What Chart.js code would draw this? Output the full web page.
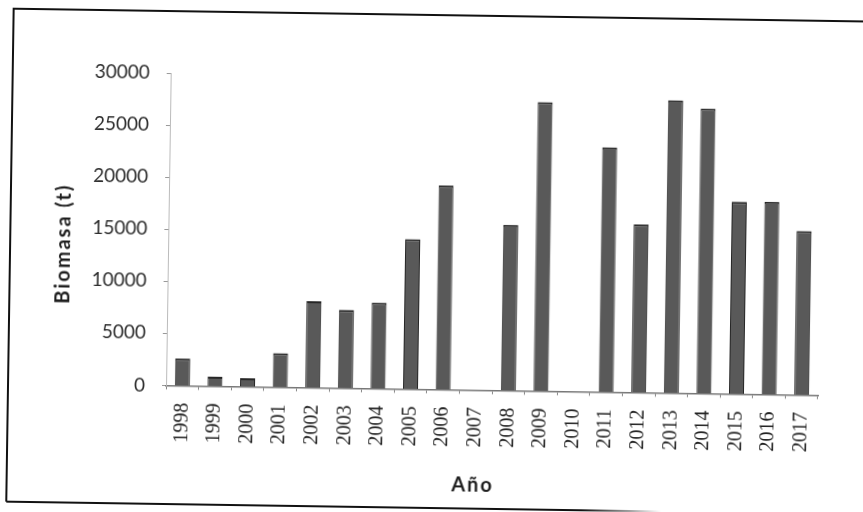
<!DOCTYPE html>
<html>
<head>
<meta charset="utf-8">
<script src="https://cdn.jsdelivr.net/npm/chart.js@4/dist/chart.umd.min.js"></script>
<style>
  html, body { margin: 0; padding: 0; background: #fff; overflow: hidden; width: 863px; height: 512px; }
  #wrap { width: 863px; height: 512px; transform: rotate(0.86deg); transform-origin: 431.5px 256px; }
  canvas { display: block; }
</style>
</head>
<body>
<div id="wrap"><canvas id="c" width="863" height="512"></canvas></div>
<script>
// Annual biomass (tonnes), 1998-2017
const years = ['1998','1999','2000','2001','2002','2003','2004','2005','2006','2007',
               '2008','2009','2010','2011','2012','2013','2014','2015','2016','2017'];
const biomasa = [2600, 900, 800, 3250, 8300, 7500, 8250, 14400, 19600, 0,
                 15900, 27750, 0, 23500, 16150, 28100, 27350, 18450, 18500, 15750];
const yTickLabels = ['0', '5000', '10000', '15000', '20000', '25000', '30000'];
const xTitle = 'Año';
const yTitle = 'Biomasa (t)';

// White page with the outer frame (open on the right, bottom edge fading out)
const framePlugin = {
  id: 'frame',
  beforeDraw(chart) {
    const ctx = chart.ctx;
    ctx.save();
    ctx.fillStyle = '#fff';
    ctx.fillRect(0, 0, chart.width, chart.height);
    ctx.strokeStyle = '#111';
    ctx.lineWidth = 2;
    ctx.beginPath();
    ctx.moveTo(880, 15);
    ctx.lineTo(10, 15);
    ctx.lineTo(10, 508);
    ctx.stroke();
    const g = ctx.createLinearGradient(585, 0, 665, 0);
    g.addColorStop(0, 'rgba(17,17,17,1)');
    g.addColorStop(1, 'rgba(17,17,17,0)');
    ctx.strokeStyle = g;
    ctx.beginPath();
    ctx.moveTo(10, 508);
    ctx.lineTo(880, 508);
    ctx.stroke();
    ctx.restore();
  }
};

// Axis titles, drawn with a little letter spacing
const titlePlugin = {
  id: 'axisTitles',
  afterDraw(chart) {
    const ctx = chart.ctx;
    const ca = chart.chartArea;
    ctx.save();
    ctx.fillStyle = '#1e1e1e';
    ctx.font = 'bold 20px Lato';
    ctx.textAlign = 'center';
    ctx.textBaseline = 'middle';
    if ('letterSpacing' in ctx) ctx.letterSpacing = '2px';
    ctx.fillText(xTitle, (ca.left + ca.right) / 2 - 18, ca.bottom + 95);
    ctx.translate(ca.left - 104, (ca.top + ca.bottom) / 2 + 16);
    ctx.rotate(-Math.PI / 2);
    ctx.fillText(yTitle, 0, 0);
    ctx.restore();
  }
};

new Chart(document.getElementById('c'), {
  type: 'bar',
  data: {
    labels: years,
    datasets: [{
      data: biomasa,
      backgroundColor: '#595959',
      borderColor: '#262626',
      borderWidth: { top: 2, left: 1, right: 1, bottom: 0 },
      borderSkipped: false,
      barPercentage: 0.46,
      categoryPercentage: 1.0
    }]
  },
  options: {
    responsive: false,
    animation: false,
    events: [],
    layout: { padding: { left: 0, top: 77, right: 43, bottom: 0 } },
    plugins: {
      legend: { display: false },
      tooltip: { enabled: false },
      title: { display: false }
    },
    scales: {
      x: {
        afterFit(scale) { scale.height = 512 - 389.4; },
        grid: {
          offset: true,
          drawOnChartArea: false,
          drawTicks: true,
          tickLength: 4,
          color: '#888'
        },
        border: { display: true, color: '#777', width: 1.5, dash: [2, 2] },
        ticks: {
          autoSkip: false,
          maxRotation: 90,
          minRotation: 90,
          padding: 13,
          color: '#222',
          font: { family: 'Liberation Serif', size: 20 }
        }
      },
      y: {
        min: 0,
        max: 30000,
        afterFit(scale) { scale.width = 168; },
        afterBuildTicks(scale) {
          scale.ticks = yTickLabels.map(t => ({ value: Number(t) }));
        },
        grid: {
          drawOnChartArea: false,
          drawTicks: true,
          tickLength: 4,
          color: '#999'
        },
        border: { display: true, color: '#bbb', width: 1, dash: [1, 4] },
        ticks: {
          padding: 17,
          color: '#2e2e2e',
          font: { family: 'Lato', size: 19 },
          callback: (v) => yTickLabels[yTickLabels.indexOf(String(v))] ?? ''
        }
      }
    }
  },
  plugins: [framePlugin, titlePlugin]
});
</script>
</body>
</html>
